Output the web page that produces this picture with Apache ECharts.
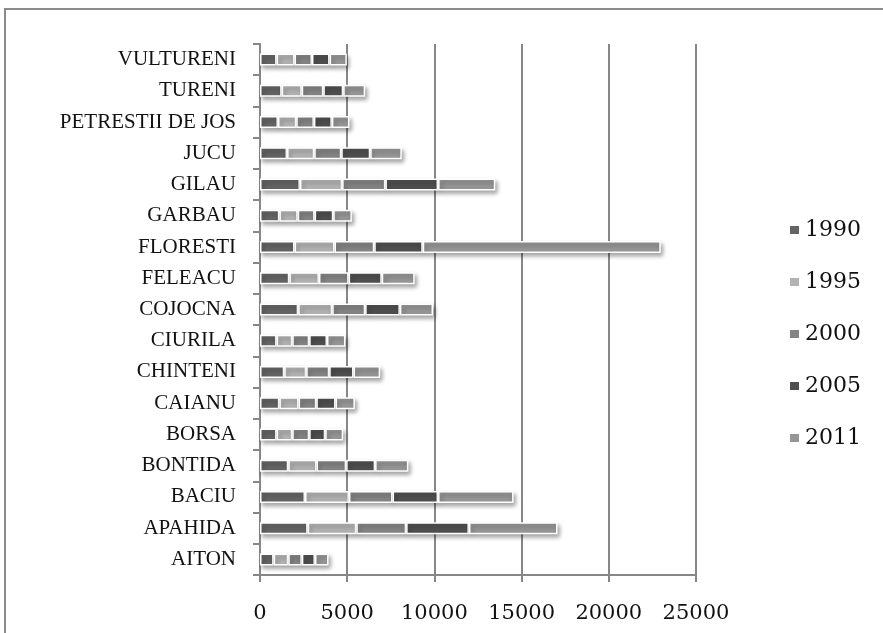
<!DOCTYPE html>
<html>
<head>
<meta charset="utf-8" />
<script src="https://cdn.jsdelivr.net/npm/echarts@6/dist/echarts.min.js"></script>
<style>
  html, body { margin: 0; padding: 0; background: #fff; }
  #chart { width: 883px; height: 633px; }
</style>
</head>
<body>
<div id="chart"></div>
<script>
// categories bottom -> top (category axis draws first item at the bottom)
const categories = [
  "AITON", "APAHIDA", "BACIU", "BONTIDA", "BORSA", "CAIANU", "CHINTENI",
  "CIURILA", "COJOCNA", "FELEACU", "FLORESTI", "GARBAU", "GILAU", "JUCU",
  "PETRESTII DE JOS", "TURENI", "VULTURENI",
];
const years = ["1990", "1995", "2000", "2005", "2011"];

const v1990 = [780, 2730, 2580, 1620, 950, 1110, 1390, 950, 2190, 1680, 1980, 1110, 2290, 1550, 1030, 1240, 950];
const v1995 = [840, 2790, 2520, 1620, 900, 1100, 1260, 900, 1950, 1700, 2290, 1050, 2420, 1560, 1050, 1150, 1030];
const v2000 = [780, 2860, 2500, 1700, 970, 1020, 1320, 970, 1890, 1700, 2280, 970, 2480, 1550, 1010, 1240, 1000];
const v2005 = [750, 3600, 2610, 1660, 920, 1100, 1390, 1020, 1990, 1900, 2780, 1070, 3020, 1660, 1030, 1140, 1010];
const v2011 = [780, 5080, 4330, 1910, 1030, 1110, 1530, 1060, 1900, 1890, 13650, 1070, 3280, 1810, 1010, 1260, 990];

const valueTicks = [0, 5000, 10000, 15000, 20000, 25000];

const seriesValues = [v1990, v1995, v2000, v2005, v2011];
const colors = ["#646464", "#b2b2b2", "#848484", "#4f4f4f", "#969696"];
const axisGrey = "#878787";
const numFont = "DejaVu Serif";
const nameFont = "Liberation Serif";

const chart = echarts.init(document.getElementById("chart"));

chart.setOption({
  backgroundColor: "#fff",
  animation: false,
  graphic: [
    {
      // outer frame, cut off at right and bottom like the source
      type: "rect",
      shape: { x: 5, y: 9, width: 1000, height: 800 },
      style: { fill: "none", stroke: "#8c8c8c", lineWidth: 2 },
      silent: true,
    },
  ],
  grid: {
    left: 260,
    right: 187,
    top: 44,
    bottom: 58,
    containLabel: false,
  },
  legend: {
    orient: "vertical",
    left: 783,
    top: 214,
    itemWidth: 11,
    itemHeight: 10,
    itemGap: 30,
    icon: "rect",
    data: years,
    textStyle: {
      fontFamily: numFont,
      fontSize: 22,
      color: "#111",
      lineHeight: 22,
    },
  },
  xAxis: {
    type: "value",
    min: valueTicks[0],
    max: valueTicks[valueTicks.length - 1],
    interval: 5000,
    axisLine: { show: true, lineStyle: { color: axisGrey, width: 2 } },
    axisTick: { show: true, length: 7, lineStyle: { color: axisGrey, width: 2 } },
    splitLine: { show: true, lineStyle: { color: axisGrey, width: 2 } },
    axisLabel: {
      margin: 28,
      fontFamily: numFont,
      fontSize: 21,
      color: "#111",
      formatter: (v) => String(v),
    },
  },
  yAxis: {
    type: "category",
    data: categories,
    axisLine: { show: true, lineStyle: { color: axisGrey, width: 2 } },
    axisTick: { show: true, length: 7, lineStyle: { color: axisGrey, width: 2 } },
    splitLine: { show: false },
    axisLabel: {
      margin: 24,
      fontFamily: nameFont,
      fontSize: 21,
      color: "#111",
    },
  },
  series: years.map((y, i) => ({
    name: y,
    type: "bar",
    stack: "total",
    barWidth: 12,
    data: seriesValues[i],
    itemStyle: {
      color: colors[i],
      borderColor: "#fff",
      borderWidth: 1.5,
      shadowColor: "rgba(0,0,0,0.35)",
      shadowBlur: 4,
      shadowOffsetX: 2,
      shadowOffsetY: 3,
    },
  })),
});
</script>
</body>
</html>
